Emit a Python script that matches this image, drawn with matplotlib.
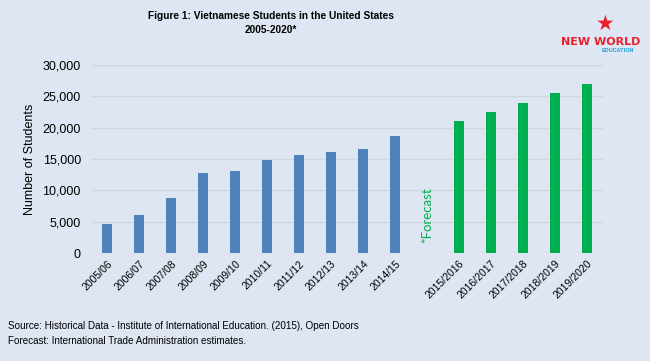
import matplotlib
matplotlib.use("Agg")
import matplotlib.pyplot as plt
import numpy as np

# --- data -------------------------------------------------------------
hist_years = ["2005/06", "2006/07", "2007/08", "2008/09", "2009/10",
              "2010/11", "2011/12", "2012/13", "2013/14", "2014/15"]
hist_students = [4600, 6000, 8800, 12800, 13100, 14900, 15600, 16100, 16600, 18700]

fcst_years = ["2015/2016", "2016/2017", "2017/2018", "2018/2019", "2019/2020"]
fcst_students = [21000, 22500, 24000, 25600, 27000]

y_ticks = [0, 5000, 10000, 15000, 20000, 25000, 30000]

bg = "#dde6f2"
blue = "#4f81bd"
green = "#00b050"

plt.rcParams["font.family"] = ["Liberation Sans", "DejaVu Sans"]

fig = plt.figure(figsize=(6.5, 3.61), dpi=100, facecolor=bg)
ax = fig.add_axes([92 / 650, 1 - 253 / 361, (603 - 92) / 650, (253 - 65) / 361])
ax.set_facecolor(bg)

# historical bars in slots 0..9, one empty slot for the forecast note, then forecast
x_hist = np.arange(len(hist_years))
x_fcst = np.arange(len(fcst_years)) + len(hist_years) + 1
ax.bar(x_hist, hist_students, width=0.32, color=blue, zorder=3)
ax.bar(x_fcst, fcst_students, width=0.32, color=green, zorder=3)

ax.set_xlim(-0.47, 15.5)
ax.set_ylim(0, 30000)
ax.set_yticks(y_ticks)
ax.set_yticklabels([f"{v:,}" for v in y_ticks], fontsize=9)
ax.yaxis.grid(True, color="#cfd6e0", linewidth=0.9, zorder=0)
ax.tick_params(axis="both", length=0, pad=8)
for s in ax.spines.values():
    s.set_visible(False)

ax.set_xticks(list(x_hist) + list(x_fcst))
ax.set_xticklabels(hist_years + fcst_years, rotation=45, ha="right",
                   rotation_mode="anchor", fontsize=7.5)
ax.tick_params(axis="x", pad=4)

ax.set_ylabel("Number of Students", fontsize=9, labelpad=5)

ax.text(len(hist_years), 6000, "*Forecast", rotation=90, color=green,
        fontsize=9.5, family=["Lato", "DejaVu Sans"], ha="center", va="center")

# title
fig.text(271 / 650, 1 - 16 / 361, "Figure 1: Vietnamese Students in the United States",
         ha="center", va="center", fontsize=7.3, fontweight="bold")
fig.text(271 / 650, 1 - 30 / 361, "2005-2020*", ha="center", va="center",
         fontsize=7.3, fontweight="bold")

# logo (text version)
fig.text(605 / 650, 1 - 24 / 361, "\u2605", color="#e8202a", fontsize=15,
         ha="center", va="center", family=["DejaVu Sans"])
fig.text(601 / 650, 1 - 42 / 361, "NEW WORLD", color="#e8202a", fontsize=8,
         fontweight="bold", ha="center", va="center", family=["DejaVu Sans"])
fig.text(618 / 650, 1 - 51 / 361, "EDUCATION", color="#1a9fd8", fontsize=4,
         fontweight="bold", ha="center", va="center")

# source notes
fig.text(8 / 650, 1 - 326 / 361, "Source: Historical Data - Institute of International Education. (2015), Open Doors",
         fontsize=7.1, va="center", ha="left")
fig.text(8 / 650, 1 - 341 / 361, "Forecast: International Trade Administration estimates.",
         fontsize=7.1, va="center", ha="left")

fig.savefig("out.png", dpi=100, facecolor=bg)
